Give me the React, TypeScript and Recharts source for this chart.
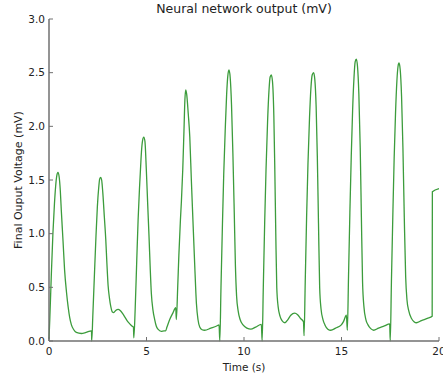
import { LineChart, Line, XAxis, YAxis } from 'recharts';

// samples (seconds, mV)
const time = [
  0, 0.04, 0.12, 0.2, 0.28, 0.34, 0.4, 0.46, 0.52, 0.58, 0.63, 0.72, 0.8, 0.9, 0.98, 1.06, 1.15, 1.27, 1.4, 1.66, 1.9, 2.18,
  2.19, 2.25, 2.33, 2.41, 2.48, 2.55, 2.6, 2.65, 2.7, 2.76, 2.84, 2.91, 2.97, 3.03, 3.1, 3.17, 3.25, 3.32, 3.42, 3.55, 3.65, 3.78, 3.9, 4.02, 4.14, 4.25, 4.33,
  4.35, 4.42, 4.5, 4.57, 4.64, 4.7, 4.74, 4.8, 4.86, 4.92, 4.99, 5.06, 5.13, 5.19, 5.25, 5.33, 5.42, 5.5, 5.59, 5.76, 5.9, 5.98, 6.05, 6.19, 6.35, 6.5,
  6.53, 6.6, 6.66, 6.74, 6.79, 6.86, 6.92, 6.97, 7.01, 7.06, 7.14, 7.22, 7.3, 7.38, 7.47, 7.56, 7.64, 7.73, 7.85, 7.98, 8.3, 8.6, 8.72,
  8.76, 8.82, 8.89, 8.96, 9.04, 9.11, 9.17, 9.23, 9.29, 9.36, 9.43, 9.5, 9.56, 9.62, 9.7, 9.8, 9.95, 10.15, 10.35, 10.6, 10.89,
  10.93, 10.99, 11.06, 11.13, 11.21, 11.28, 11.34, 11.4, 11.46, 11.53, 11.58, 11.63, 11.68, 11.75, 11.85, 11.95, 12.1, 12.25, 12.4, 12.6, 12.75, 12.9, 13.05,
  13.08, 13.14, 13.21, 13.28, 13.36, 13.43, 13.5, 13.57, 13.63, 13.7, 13.76, 13.82, 13.88, 13.95, 14.05, 14.15, 14.3, 14.45, 14.7, 14.99, 15.1, 15.25,
  15.3, 15.36, 15.43, 15.5, 15.57, 15.64, 15.7, 15.76, 15.82, 15.89, 15.96, 16.02, 16.08, 16.15, 16.25, 16.36, 16.5, 16.65, 16.9, 17.2, 17.47,
  17.5, 17.56, 17.63, 17.7, 17.77, 17.84, 17.9, 17.95, 18.01, 18.08, 18.15, 18.22, 18.29, 18.36, 18.45, 18.59, 18.72, 18.84, 19.1, 19.4, 19.65,
  19.66, 20,
];

const voltage = [
  0.02, 0.2, 0.62, 1.0, 1.28, 1.44, 1.54, 1.57, 1.53, 1.4, 1.22, 0.93, 0.66, 0.45, 0.32, 0.22, 0.15, 0.105, 0.08, 0.07, 0.08, 0.095,
  0.0, 0.25, 0.62, 0.98, 1.25, 1.43, 1.51, 1.525, 1.5, 1.38, 1.15, 0.95, 0.72, 0.52, 0.4, 0.32, 0.27, 0.265, 0.285, 0.295, 0.285, 0.255, 0.22, 0.185, 0.16, 0.14, 0.13,
  0.03, 0.3, 0.75, 1.13, 1.42, 1.63, 1.76, 1.87, 1.9, 1.86, 1.6, 1.28, 0.97, 0.68, 0.44, 0.29, 0.2, 0.14, 0.11, 0.09, 0.095, 0.095, 0.13, 0.2, 0.26, 0.31,
  0.2, 0.5, 0.8, 1.13, 1.3, 1.6, 1.95, 2.25, 2.34, 2.3, 2.12, 1.9, 1.5, 1.13, 0.72, 0.35, 0.2, 0.13, 0.105, 0.1, 0.12, 0.14, 0.15,
  0.0, 0.5, 1.05, 1.55, 1.98, 2.3, 2.47, 2.525, 2.46, 2.2, 1.75, 1.2, 0.7, 0.42, 0.28, 0.2, 0.15, 0.12, 0.11, 0.13, 0.155,
  0.0, 0.5, 1.1, 1.6, 2.05, 2.33, 2.46, 2.48, 2.42, 2.1, 1.6, 1.0, 0.5, 0.32, 0.23, 0.19, 0.17, 0.2, 0.24, 0.26, 0.245, 0.21, 0.18,
  0.05, 0.55, 1.15, 1.65, 2.08, 2.35, 2.48, 2.5, 2.44, 2.18, 1.72, 1.1, 0.5, 0.3, 0.2, 0.15, 0.11, 0.1, 0.12, 0.15, 0.18, 0.24,
  0.1, 0.6, 1.2, 1.72, 2.15, 2.45, 2.6, 2.625, 2.56, 2.3, 1.8, 1.15, 0.55, 0.32, 0.2, 0.15, 0.115, 0.1, 0.12, 0.14, 0.16,
  0.0, 0.55, 1.15, 1.7, 2.12, 2.42, 2.56, 2.59, 2.53, 2.28, 1.8, 1.15, 0.6, 0.38, 0.28, 0.21, 0.18, 0.17, 0.19, 0.21, 0.23,
  1.39, 1.42,
];

const xTicks = [0, 5, 10, 15, 20];
const yTicks = [0, 0.5, 1.0, 1.5, 2.0, 2.5, 3.0];

const data = time.map((t, i) => ({ t, v: voltage[i] }));

const FONT = '"DejaVu Sans", sans-serif';
const FRAME = '#707070';
const TEXT = '#222';

function BottomTick({ x, y, payload }: any) {
  return (
    <g>
      <line x1={x} y1={y} x2={x} y2={y - 4} stroke={FRAME} />
      <text x={x} y={y + 14} textAnchor="middle" fontSize={10.5} fill={TEXT} fontFamily={FONT}>
        {payload.value}
      </text>
    </g>
  );
}

function TopTick({ x, y }: any) {
  return <line x1={x} y1={y} x2={x} y2={y + 4} stroke={FRAME} />;
}

function LeftTick({ x, y, payload }: any) {
  return (
    <g>
      <line x1={x} y1={y} x2={x + 4} y2={y} stroke={FRAME} />
      <text x={x - 4} y={y} dy="0.35em" textAnchor="end" fontSize={10.5} fill={TEXT} fontFamily={FONT}>
        {Number(payload.value).toFixed(1)}
      </text>
    </g>
  );
}

function RightTick({ x, y }: any) {
  return <line x1={x} y1={y} x2={x - 4} y2={y} stroke={FRAME} />;
}

export default function App() {
  return (
    <div style={{ position: 'absolute', left: 0, top: 0, width: 443, height: 376, background: '#fff' }}>
      <div
        style={{
          position: 'absolute', left: 49, width: 390, top: 1, textAlign: 'center',
          fontFamily: FONT, fontSize: 12.5, color: TEXT, lineHeight: '16px',
        }}
      >
        Neural network output (mV)
      </div>
      <LineChart width={443} height={376} data={data} margin={{ top: 19, right: 4, bottom: 0, left: 0 }}>
        <XAxis
          dataKey="t"
          type="number"
          domain={[0, 20]}
          ticks={xTicks}
          interval={0}
          height={35}
          tickSize={0}
          tickMargin={0}
          tickLine={false}
          tick={<BottomTick />}
          axisLine={{ stroke: FRAME, strokeWidth: 1.5 }}
          label={{ value: 'Time (s)', position: 'insideBottom', offset: 5, fontSize: 10.5, fill: TEXT, fontFamily: FONT }}
        />
        <XAxis
          xAxisId="top"
          orientation="top"
          dataKey="t"
          type="number"
          domain={[0, 20]}
          ticks={xTicks}
          interval={0}
          height={0}
          tickSize={0}
          tickMargin={0}
          tickLine={false}
          tick={<TopTick />}
          axisLine={{ stroke: FRAME, strokeWidth: 1.5 }}
        />
        <YAxis
          type="number"
          domain={[0, 3]}
          ticks={yTicks}
          interval={0}
          width={49}
          tickSize={0}
          tickMargin={0}
          tickLine={false}
          tick={<LeftTick />}
          axisLine={{ stroke: FRAME, strokeWidth: 1.5 }}
          label={{ value: 'Final Ouput Voltage (mV)', angle: -90, position: 'center', dx: -6, fontSize: 11, fill: TEXT, fontFamily: FONT }}
        />
        <YAxis
          yAxisId="right"
          orientation="right"
          type="number"
          domain={[0, 3]}
          ticks={yTicks}
          interval={0}
          width={0}
          tickSize={0}
          tickMargin={0}
          tickLine={false}
          tick={<RightTick />}
          axisLine={{ stroke: FRAME, strokeWidth: 1.5 }}
        />
        <Line
          type="monotone"
          dataKey="v"
          stroke="#3c9c3c"
          strokeWidth={1.3}
          dot={false}
          activeDot={false}
          isAnimationActive={false}
        />
        <Line
          xAxisId="top"
          yAxisId="right"
          type="linear"
          dataKey="v"
          stroke="none"
          dot={false}
          activeDot={false}
          isAnimationActive={false}
        />
      </LineChart>
    </div>
  );
}
